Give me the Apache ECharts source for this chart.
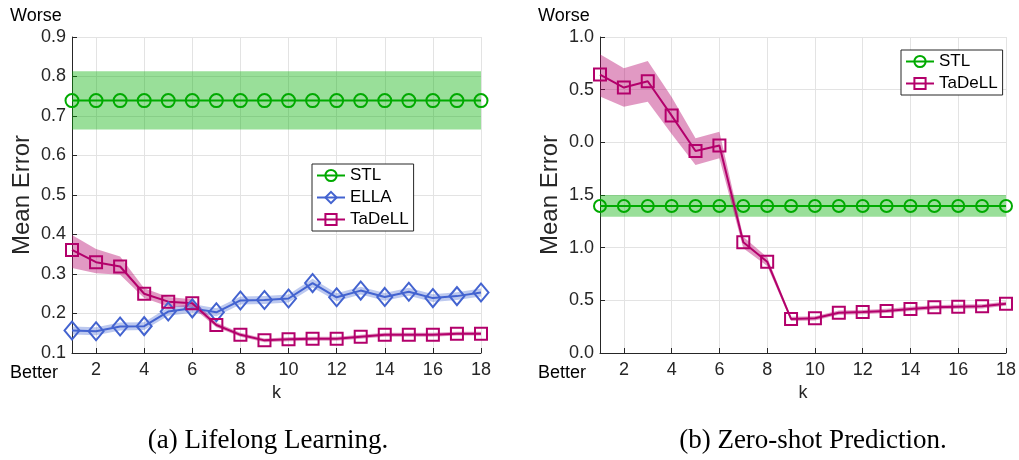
<!DOCTYPE html>
<html>
<head>
<meta charset="utf-8">
<script src="https://cdn.jsdelivr.net/npm/echarts@6/dist/echarts.min.js"></script>
<style>
html,body{margin:0;padding:0;background:#fff;}
#chart{width:1019px;height:460px;}
</style>
</head>
<body>
<div id="chart"></div>
<script>
// ---- data ----
const kValues = ['1','2','3','4','5','6','7','8','9','10','11','12','13','14','15','16','17','18'];

// (a) Lifelong Learning
const stlA      = [0.739,0.739,0.739,0.739,0.739,0.739,0.739,0.739,0.739,0.739,0.739,0.739,0.739,0.739,0.739,0.739,0.739,0.739];
const stlAUpper = [0.813,0.813,0.813,0.813,0.813,0.813,0.813,0.813,0.813,0.813,0.813,0.813,0.813,0.813,0.813,0.813,0.813,0.813];
const stlALower = [0.666,0.666,0.666,0.666,0.666,0.666,0.666,0.666,0.666,0.666,0.666,0.666,0.666,0.666,0.666,0.666,0.666,0.666];
const ellaA      = [0.157,0.155,0.167,0.168,0.205,0.213,0.203,0.233,0.234,0.238,0.277,0.241,0.258,0.242,0.255,0.239,0.244,0.253];
const ellaAUpper = [0.167,0.165,0.177,0.178,0.216,0.224,0.213,0.243,0.244,0.248,0.288,0.251,0.268,0.252,0.265,0.249,0.254,0.263];
const ellaALower = [0.147,0.145,0.157,0.158,0.194,0.202,0.193,0.223,0.224,0.228,0.266,0.231,0.248,0.232,0.245,0.229,0.234,0.243];
const tadellA      = [0.361,0.330,0.319,0.250,0.230,0.226,0.171,0.146,0.132,0.135,0.136,0.136,0.141,0.146,0.146,0.146,0.149,0.149];
const tadellAUpper = [0.399,0.363,0.344,0.264,0.242,0.236,0.177,0.151,0.137,0.140,0.141,0.141,0.146,0.151,0.151,0.151,0.154,0.154];
const tadellALower = [0.315,0.302,0.298,0.239,0.218,0.216,0.165,0.141,0.127,0.130,0.131,0.131,0.136,0.141,0.141,0.141,0.144,0.144];

// (b) Zero-shot Prediction (broken axis: positions on a 0..3 scale)
const stlB      = [1.396,1.396,1.396,1.396,1.396,1.396,1.396,1.396,1.396,1.396,1.396,1.396,1.396,1.396,1.396,1.396,1.396,1.396];
const stlBUpper = [1.500,1.500,1.500,1.500,1.500,1.500,1.500,1.500,1.500,1.500,1.500,1.500,1.500,1.500,1.500,1.500,1.500,1.500];
const stlBLower = [1.294,1.294,1.294,1.294,1.294,1.294,1.294,1.294,1.294,1.294,1.294,1.294,1.294,1.294,1.294,1.294,1.294,1.294];
const tadellB      = [2.643,2.520,2.580,2.254,1.918,1.969,1.051,0.867,0.323,0.329,0.383,0.389,0.399,0.418,0.434,0.440,0.443,0.468];
const tadellBUpper = [2.837,2.704,2.773,2.430,2.039,2.100,1.104,0.910,0.343,0.349,0.403,0.409,0.419,0.438,0.454,0.460,0.463,0.488];
const tadellBLower = [2.434,2.339,2.386,2.080,1.785,1.849,0.994,0.825,0.303,0.309,0.363,0.369,0.379,0.398,0.414,0.420,0.423,0.448];
const yTickLabelsB = ['0.0','0.5','1.0','1.5','0.0','0.5','1.0'];

// ---- styling ----
const FONT = '"Liberation Sans", Arial, sans-serif';
const SERIF = '"Liberation Serif", "Times New Roman", serif';
const AXIS_COLOR = '#262626';
const GRID_COLOR = '#e3e3e3';
const GREEN = '#00aa00', BLUE = '#4363d0', MAG = '#b3006b';
const GREEN_BAND = 'rgba(0,175,0,0.40)', BLUE_BAND = 'rgba(67,99,208,0.35)', MAG_BAND = 'rgba(180,0,105,0.40)';

const oddIdx = (i) => i % 2 === 1;

function xAxisDef(gridIndex) {
  return {
    type: 'category', gridIndex, data: kValues, boundaryGap: false,
    name: 'k', nameLocation: 'middle', nameGap: 31,
    nameTextStyle: { fontFamily: FONT, fontSize: 18, color: AXIS_COLOR },
    axisLine: { show: true, lineStyle: { color: AXIS_COLOR, width: 1 } },
    axisTick: { show: true, inside: true, length: 5, interval: oddIdx, lineStyle: { color: AXIS_COLOR } },
    axisLabel: { interval: oddIdx, fontFamily: FONT, fontSize: 18, color: AXIS_COLOR, margin: 8 },
    splitLine: { show: true, interval: oddIdx, lineStyle: { color: GRID_COLOR, width: 1 } }
  };
}
function yAxisDef(gridIndex, min, max, interval, fmt) {
  return {
    type: 'value', gridIndex, min, max, interval,
    name: 'Mean Error', nameLocation: 'middle', nameGap: 38,
    nameTextStyle: { fontFamily: FONT, fontSize: 24, color: AXIS_COLOR },
    axisLine: { show: true, lineStyle: { color: AXIS_COLOR, width: 1 } },
    axisTick: { show: true, inside: true, length: 5, lineStyle: { color: AXIS_COLOR } },
    axisLabel: { formatter: fmt, fontFamily: FONT, fontSize: 18, color: AXIS_COLOR, margin: 6 },
    splitLine: { show: true, lineStyle: { color: GRID_COLOR, width: 1 } }
  };
}

function band(name, idx, lower, upper, color) {
  const stackId = name + idx;
  return [
    { type: 'line', name: name + '_lo', xAxisIndex: idx, yAxisIndex: idx, stack: stackId,
      data: lower, symbol: 'none', lineStyle: { opacity: 0 }, silent: true, z: 1 },
    { type: 'line', name: name + '_band', xAxisIndex: idx, yAxisIndex: idx, stack: stackId,
      data: upper.map((u, i) => +(u - lower[i]).toFixed(4)), symbol: 'none',
      lineStyle: { opacity: 0 }, areaStyle: { color, opacity: 1 }, silent: true, z: 1 }
  ];
}
function mainLine(name, idx, data, color, symbol, size) {
  return {
    type: 'line', name, xAxisIndex: idx, yAxisIndex: idx, data,
    symbol, symbolSize: size, showAllSymbol: true,
    lineStyle: { color, width: 2 },
    itemStyle: { color: 'rgba(255,255,255,0)', borderColor: color, borderWidth: 2 },
    z: 5
  };
}

const legendCommon = {
  orient: 'vertical', itemWidth: 28, itemHeight: 14, itemGap: 5, padding: [3, 5, 3, 4],
  borderColor: AXIS_COLOR, borderWidth: 1, backgroundColor: '#fff',
  textStyle: { fontFamily: FONT, fontSize: 17, color: '#000' }
};

const option = {
  animation: false,
  backgroundColor: '#fff',
  grid: [
    { left: 72, right: 538, top: 37, bottom: 107 },
    { left: 600, right: 10, top: 37, bottom: 107 }
  ],
  xAxis: [xAxisDef(0), xAxisDef(1)],
  yAxis: [
    yAxisDef(0, 0.1, 0.9, 0.1, (v) => v.toFixed(1)),
    yAxisDef(1, 0, 3, 0.5, (v) => yTickLabelsB[Math.round(v / 0.5)])
  ],
  legend: [
    Object.assign({ left: 312, top: 164, data: ['STL', 'ELLA', 'TaDeLL'] }, legendCommon),
    Object.assign({ left: 901, top: 50, data: ['STL', 'TaDeLL'] }, legendCommon)
  ],
  graphic: [
    { type: 'text', left: 10, top: 7, style: { text: 'Worse', fontFamily: FONT, fontSize: 18, fill: '#000' } },
    { type: 'text', left: 10, top: 364, style: { text: 'Better', fontFamily: FONT, fontSize: 18, fill: '#000' } },
    { type: 'text', left: 538, top: 7, style: { text: 'Worse', fontFamily: FONT, fontSize: 18, fill: '#000' } },
    { type: 'text', left: 538, top: 364, style: { text: 'Better', fontFamily: FONT, fontSize: 18, fill: '#000' } },
    { type: 'text', x: 268, y: 441, style: { text: '(a) Lifelong Learning.', fontFamily: SERIF, fontSize: 27, fill: '#000', align: 'center', verticalAlign: 'middle' } },
    { type: 'text', x: 813, y: 441, style: { text: '(b) Zero-shot Prediction.', fontFamily: SERIF, fontSize: 27, fill: '#000', align: 'center', verticalAlign: 'middle' } }
  ],
  series: [
    ...band('STL', 0, stlALower, stlAUpper, GREEN_BAND),
    ...band('ELLA', 0, ellaALower, ellaAUpper, BLUE_BAND),
    ...band('TaDeLL', 0, tadellALower, tadellAUpper, MAG_BAND),
    mainLine('STL', 0, stlA, GREEN, 'circle', 13),
    mainLine('ELLA', 0, ellaA, BLUE, 'diamond', [15, 18]),
    mainLine('TaDeLL', 0, tadellA, MAG, 'rect', 12),
    ...band('STL', 1, stlBLower, stlBUpper, GREEN_BAND),
    ...band('TaDeLL', 1, tadellBLower, tadellBUpper, MAG_BAND),
    mainLine('STL', 1, stlB, GREEN, 'circle', 12),
    mainLine('TaDeLL', 1, tadellB, MAG, 'rect', 12)
  ]
};

const chart = echarts.init(document.getElementById('chart'), null, { renderer: 'canvas' });
chart.setOption(option);
</script>
</body>
</html>
